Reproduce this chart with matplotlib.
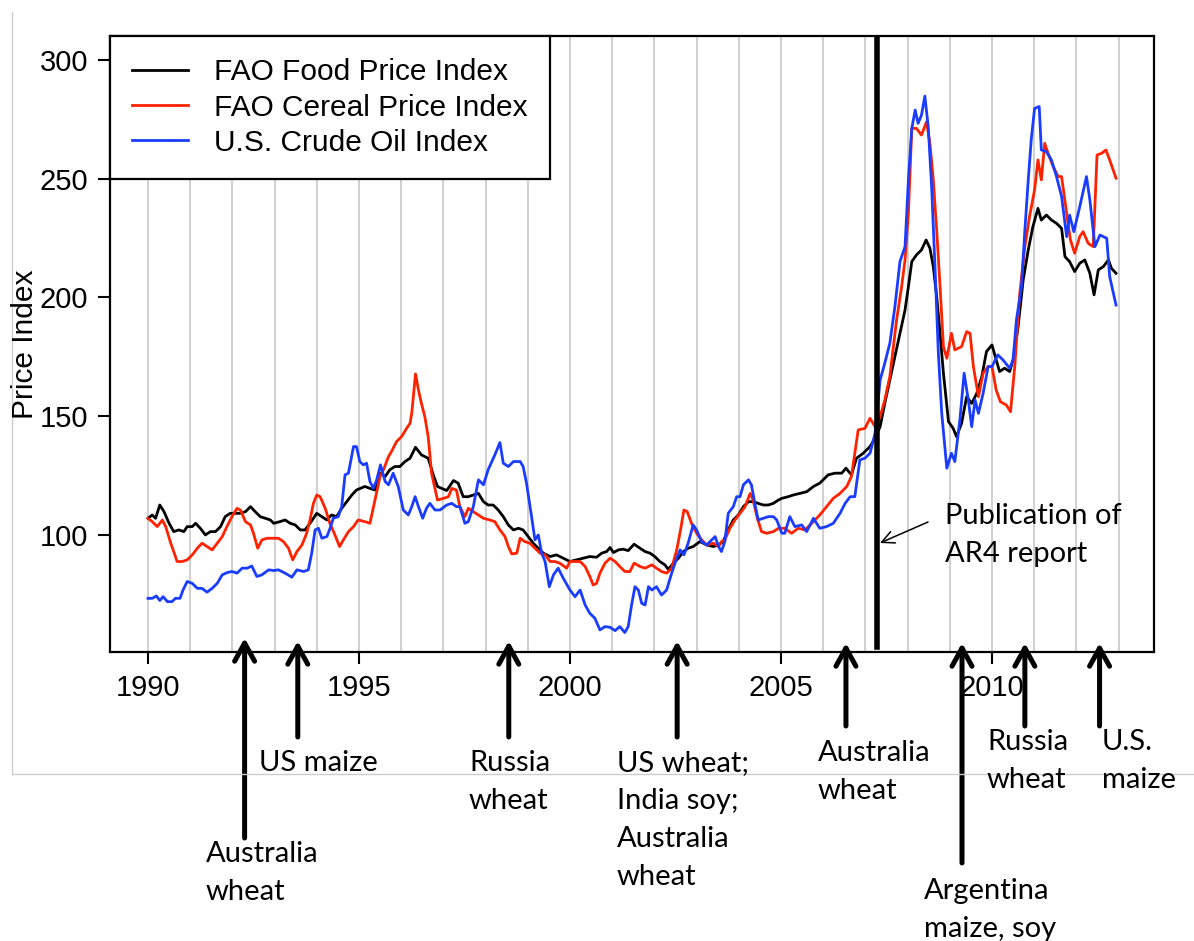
import matplotlib
matplotlib.use('Agg')
import matplotlib.pyplot as plt
from matplotlib.lines import Line2D

# Data (decimal year, index value)
food = [
    (1990.00, 107.0), (1990.10, 108.4), (1990.18, 107.0), (1990.28, 112.6), (1990.38, 109.8),
    (1990.50, 104.9), (1990.61, 101.4), (1990.73, 102.1), (1990.85, 101.4), (1990.93, 103.5),
    (1991.05, 103.5), (1991.13, 104.9), (1991.24, 102.8), (1991.36, 100.0), (1991.48, 101.4),
    (1991.60, 101.4), (1991.72, 103.5), (1991.83, 107.7), (1991.95, 109.1), (1992.19, 109.1),
    (1992.31, 109.8), (1992.43, 111.9), (1992.54, 109.8), (1992.66, 107.7), (1992.90, 106.3),
    (1992.98, 104.9), (1993.13, 105.6), (1993.25, 106.3), (1993.37, 104.9), (1993.49, 104.2),
    (1993.61, 102.1), (1993.72, 102.1), (1993.84, 104.9), (1994.00, 109.1), (1994.12, 107.7),
    (1994.24, 106.3), (1994.35, 108.4), (1994.47, 107.7), (1994.59, 111.2), (1994.71, 114.0),
    (1994.83, 116.8), (1994.94, 118.9), (1995.14, 120.4), (1995.26, 119.6), (1995.38, 118.9),
    (1995.50, 126.0), (1995.62, 124.6), (1995.73, 127.4), (1995.85, 128.8), (1995.97, 128.8),
    (1996.09, 130.9), (1996.21, 132.3), (1996.34, 136.9), (1996.48, 133.7), (1996.64, 132.3),
    (1996.76, 125.3), (1996.86, 120.4), (1996.96, 119.6), (1997.08, 118.7), (1997.24, 122.9),
    (1997.35, 121.8), (1997.47, 116.1), (1997.59, 116.1), (1997.71, 116.8), (1997.83, 117.5),
    (1997.95, 114.0), (1998.06, 112.6), (1998.18, 112.6), (1998.30, 110.5), (1998.42, 107.7),
    (1998.54, 104.2), (1998.66, 102.1), (1998.78, 102.8), (1998.89, 102.1), (1999.01, 99.3),
    (1999.13, 96.5), (1999.25, 94.4), (1999.37, 92.3), (1999.53, 90.9), (1999.68, 91.6),
    (1999.84, 90.2), (2000.00, 88.8), (2000.16, 89.5), (2000.32, 90.2), (2000.47, 90.9),
    (2000.63, 90.6), (2000.75, 92.3), (2000.87, 93.0), (2000.95, 94.7), (2001.03, 92.6),
    (2001.15, 93.7), (2001.26, 94.0), (2001.38, 93.4), (2001.52, 96.1), (2001.66, 94.4),
    (2001.78, 93.0), (2001.90, 92.3), (2002.01, 90.9), (2002.13, 88.8), (2002.25, 87.4),
    (2002.33, 85.5), (2002.45, 88.1), (2002.57, 90.2), (2002.69, 93.0), (2002.80, 94.4),
    (2002.92, 95.1), (2003.08, 97.2), (2003.24, 95.8), (2003.40, 95.1), (2003.52, 95.8),
    (2003.63, 97.2), (2003.75, 102.1), (2003.87, 106.3), (2003.99, 108.4), (2004.11, 111.9),
    (2004.23, 114.0), (2004.34, 114.0), (2004.46, 113.3), (2004.58, 112.6), (2004.70, 112.6),
    (2004.82, 113.3), (2004.94, 114.7), (2005.02, 115.4), (2005.17, 116.1), (2005.29, 116.8),
    (2005.45, 117.5), (2005.61, 118.2), (2005.77, 120.4), (2005.92, 121.8), (2006.12, 125.3),
    (2006.28, 126.0), (2006.44, 126.0), (2006.54, 128.1), (2006.67, 125.3), (2006.79, 132.3),
    (2006.95, 134.4), (2007.11, 137.2), (2007.23, 140.7), (2007.35, 145.6), (2007.46, 155.4),
    (2007.58, 165.3), (2007.70, 175.1), (2007.82, 184.9), (2007.94, 194.7), (2008.02, 204.6),
    (2008.10, 215.1), (2008.21, 217.9), (2008.33, 220.0), (2008.44, 224.2), (2008.53, 220.7),
    (2008.61, 213.0), (2008.69, 200.4), (2008.77, 184.9), (2008.85, 168.1), (2008.97, 147.7),
    (2009.08, 144.9), (2009.16, 141.4), (2009.28, 147.0), (2009.40, 158.2), (2009.52, 155.4),
    (2009.64, 159.6), (2009.76, 166.7), (2009.87, 177.2), (2010.00, 180.0), (2010.10, 173.7),
    (2010.18, 168.8), (2010.30, 170.2), (2010.42, 168.8), (2010.50, 173.7), (2010.62, 187.7),
    (2010.74, 207.4), (2010.86, 220.0), (2010.97, 229.8), (2011.09, 237.5), (2011.17, 232.6),
    (2011.29, 234.7), (2011.41, 232.6), (2011.53, 231.2), (2011.65, 229.1), (2011.73, 217.2),
    (2011.84, 215.1), (2011.96, 210.9), (2012.08, 214.4), (2012.20, 215.8), (2012.32, 210.2),
    (2012.42, 201.1), (2012.52, 211.6), (2012.64, 213.0), (2012.76, 215.8), (2012.83, 212.3),
    (2012.94, 210.2),
]

cereal = [
    (1990.00, 107.0), (1990.10, 105.6), (1990.22, 103.5), (1990.34, 106.3), (1990.42, 103.5),
    (1990.54, 96.5), (1990.61, 93.0), (1990.69, 88.8), (1990.81, 88.8), (1990.93, 89.5),
    (1991.05, 91.6), (1991.17, 94.4), (1991.28, 96.5), (1991.40, 95.1), (1991.52, 93.7),
    (1991.64, 96.5), (1991.76, 99.3), (1991.87, 103.5), (1991.99, 107.7), (1992.11, 111.2),
    (1992.19, 110.5), (1992.31, 105.6), (1992.43, 104.2), (1992.50, 100.7), (1992.60, 94.4),
    (1992.70, 97.9), (1992.82, 98.6), (1992.98, 98.6), (1993.09, 98.6), (1993.21, 97.2),
    (1993.33, 94.4), (1993.43, 89.5), (1993.53, 93.0), (1993.65, 95.8), (1993.76, 100.7),
    (1993.84, 106.3), (1993.92, 113.3), (1994.00, 116.8), (1994.08, 116.1), (1994.20, 111.2),
    (1994.31, 104.9), (1994.43, 100.0), (1994.54, 95.1), (1994.63, 97.9), (1994.75, 101.4),
    (1994.87, 103.5), (1994.98, 106.3), (1995.14, 105.6), (1995.26, 104.9), (1995.38, 114.7),
    (1995.50, 124.6), (1995.58, 127.4), (1995.70, 133.0), (1995.77, 135.1), (1995.89, 139.3),
    (1996.01, 141.4), (1996.13, 144.9), (1996.21, 147.0), (1996.25, 151.2), (1996.34, 167.8),
    (1996.41, 161.0), (1996.48, 155.4), (1996.56, 149.8), (1996.64, 141.4), (1996.72, 126.0),
    (1996.86, 114.7), (1997.00, 115.4), (1997.12, 116.1), (1997.20, 119.6), (1997.31, 118.9),
    (1997.39, 111.9), (1997.51, 107.7), (1997.59, 111.2), (1997.71, 109.8), (1997.83, 108.4),
    (1997.95, 107.0), (1998.10, 106.3), (1998.22, 105.6), (1998.34, 102.1), (1998.46, 99.3),
    (1998.54, 95.1), (1998.62, 92.0), (1998.74, 92.3), (1998.82, 98.6), (1998.93, 97.2),
    (1999.05, 96.5), (1999.17, 94.4), (1999.29, 92.3), (1999.41, 91.6), (1999.53, 88.8),
    (1999.64, 88.8), (1999.76, 88.1), (1999.92, 86.0), (2000.00, 88.8), (2000.12, 88.8),
    (2000.24, 88.8), (2000.36, 86.7), (2000.47, 82.5), (2000.55, 78.9), (2000.63, 79.6),
    (2000.71, 83.9), (2000.83, 88.1), (2000.95, 90.2), (2001.07, 88.8), (2001.18, 86.7),
    (2001.30, 84.6), (2001.42, 84.6), (2001.52, 88.1), (2001.66, 86.7), (2001.78, 86.0),
    (2001.94, 87.4), (2002.05, 86.0), (2002.17, 84.6), (2002.29, 83.9), (2002.41, 86.0),
    (2002.53, 93.7), (2002.62, 102.1), (2002.70, 110.5), (2002.78, 109.8), (2002.88, 104.9),
    (2003.00, 100.7), (2003.12, 97.9), (2003.24, 95.8), (2003.40, 96.5), (2003.52, 95.1),
    (2003.59, 97.2), (2003.67, 97.9), (2003.79, 102.8), (2003.91, 106.3), (2004.03, 109.1),
    (2004.15, 111.9), (2004.27, 117.5), (2004.34, 114.7), (2004.44, 107.0), (2004.54, 101.4),
    (2004.66, 100.7), (2004.82, 101.4), (2004.94, 102.8), (2005.09, 102.8), (2005.25, 100.7),
    (2005.41, 102.8), (2005.57, 102.1), (2005.73, 104.9), (2005.92, 108.4), (2006.08, 111.9),
    (2006.24, 115.4), (2006.40, 117.5), (2006.56, 120.4), (2006.67, 124.6), (2006.75, 134.4),
    (2006.83, 144.2), (2006.99, 144.9), (2007.11, 149.1), (2007.23, 145.6), (2007.35, 149.8),
    (2007.46, 156.8), (2007.58, 166.7), (2007.74, 190.5), (2007.86, 204.6), (2007.94, 215.8),
    (2008.02, 235.4), (2008.10, 271.2), (2008.21, 271.2), (2008.33, 268.4), (2008.45, 274.0),
    (2008.53, 264.9), (2008.61, 249.5), (2008.69, 228.4), (2008.77, 204.6), (2008.85, 179.3),
    (2008.93, 174.4), (2009.04, 184.9), (2009.12, 177.9), (2009.28, 179.3), (2009.40, 185.6),
    (2009.48, 184.9), (2009.56, 170.9), (2009.68, 158.2), (2009.79, 168.1), (2009.91, 170.9),
    (2010.00, 170.9), (2010.10, 161.0), (2010.20, 156.1), (2010.34, 154.7), (2010.44, 151.9),
    (2010.54, 170.9), (2010.66, 201.8), (2010.78, 221.4), (2010.89, 234.0), (2011.01, 245.3),
    (2011.09, 257.9), (2011.17, 249.5), (2011.25, 264.9), (2011.33, 260.7), (2011.45, 255.1),
    (2011.57, 250.9), (2011.65, 250.9), (2011.77, 235.4), (2011.86, 224.2), (2011.96, 218.6),
    (2012.08, 225.6), (2012.16, 227.7), (2012.28, 222.8), (2012.40, 221.4), (2012.49, 260.0),
    (2012.60, 260.7), (2012.70, 262.1), (2012.79, 257.9), (2012.94, 250.2),
]

oil = [
    (1990.00, 73.3), (1990.10, 73.3), (1990.20, 74.3), (1990.28, 72.4), (1990.36, 74.0),
    (1990.46, 71.9), (1990.57, 71.9), (1990.65, 73.3), (1990.76, 73.3), (1990.83, 76.8),
    (1990.93, 80.4), (1991.05, 79.6), (1991.17, 77.5), (1991.28, 77.5), (1991.40, 75.9),
    (1991.52, 77.5), (1991.64, 79.6), (1991.76, 83.2), (1991.87, 84.1), (1991.99, 84.6),
    (1992.11, 83.9), (1992.23, 86.0), (1992.35, 86.0), (1992.46, 86.9), (1992.58, 82.5),
    (1992.70, 83.2), (1992.86, 85.3), (1992.98, 85.0), (1993.09, 85.3), (1993.25, 83.9),
    (1993.41, 82.2), (1993.53, 85.3), (1993.69, 84.6), (1993.80, 85.3), (1993.88, 92.3),
    (1993.96, 102.1), (1994.04, 102.8), (1994.12, 98.6), (1994.24, 99.3), (1994.33, 103.5),
    (1994.39, 107.0), (1994.51, 107.7), (1994.59, 111.9), (1994.67, 125.3), (1994.75, 126.0),
    (1994.87, 137.2), (1994.94, 137.2), (1995.02, 130.9), (1995.10, 129.5), (1995.18, 130.2),
    (1995.26, 122.5), (1995.34, 119.6), (1995.42, 123.2), (1995.51, 129.5), (1995.62, 122.5),
    (1995.70, 121.1), (1995.81, 126.0), (1995.93, 120.4), (1996.05, 110.5), (1996.17, 108.4),
    (1996.25, 111.9), (1996.33, 116.1), (1996.41, 111.9), (1996.51, 107.0), (1996.60, 111.2),
    (1996.68, 113.3), (1996.80, 110.5), (1996.92, 110.5), (1997.08, 112.6), (1997.20, 113.3),
    (1997.31, 111.9), (1997.39, 111.9), (1997.51, 104.9), (1997.59, 105.6), (1997.71, 111.9),
    (1997.83, 123.2), (1997.95, 121.1), (1998.06, 127.4), (1998.22, 133.7), (1998.34, 138.9),
    (1998.42, 130.2), (1998.54, 128.8), (1998.66, 130.9), (1998.82, 130.9), (1998.89, 128.8),
    (1998.97, 121.8), (1999.09, 107.7), (1999.17, 97.9), (1999.25, 100.0), (1999.33, 92.3),
    (1999.41, 88.8), (1999.51, 78.2), (1999.61, 83.2), (1999.72, 86.0), (1999.84, 81.8),
    (2000.00, 76.8), (2000.12, 74.0), (2000.24, 76.8), (2000.36, 70.5), (2000.47, 67.0),
    (2000.59, 64.9), (2000.71, 60.0), (2000.83, 61.4), (2000.95, 61.1), (2001.07, 59.7),
    (2001.18, 61.4), (2001.30, 58.9), (2001.38, 61.4), (2001.46, 70.5), (2001.54, 78.2),
    (2001.62, 76.8), (2001.70, 71.2), (2001.78, 70.5), (2001.86, 78.2), (2001.94, 76.8),
    (2002.05, 78.2), (2002.17, 74.7), (2002.29, 76.8), (2002.41, 83.9), (2002.53, 90.2),
    (2002.61, 93.7), (2002.70, 91.6), (2002.80, 96.5), (2002.92, 104.2), (2003.00, 102.1),
    (2003.12, 97.2), (2003.24, 95.8), (2003.32, 97.2), (2003.44, 99.3), (2003.52, 95.1),
    (2003.59, 93.0), (2003.67, 97.2), (2003.75, 109.1), (2003.87, 111.9), (2003.95, 116.1),
    (2004.03, 116.1), (2004.11, 121.1), (2004.23, 123.2), (2004.30, 121.1), (2004.38, 113.3),
    (2004.46, 106.3), (2004.58, 107.0), (2004.70, 107.7), (2004.82, 107.7), (2004.90, 106.3),
    (2005.02, 100.7), (2005.09, 100.7), (2005.21, 107.7), (2005.33, 103.5), (2005.49, 104.2),
    (2005.61, 101.4), (2005.77, 107.0), (2005.92, 102.8), (2006.08, 103.5), (2006.24, 104.9),
    (2006.40, 109.1), (2006.52, 113.3), (2006.64, 116.1), (2006.75, 116.1), (2006.87, 131.6),
    (2006.99, 132.3), (2007.11, 134.4), (2007.23, 142.8), (2007.35, 165.3), (2007.46, 172.3),
    (2007.58, 180.7), (2007.70, 196.1), (2007.82, 215.1), (2007.94, 221.4), (2008.02, 249.5),
    (2008.10, 271.2), (2008.18, 278.9), (2008.25, 273.3), (2008.33, 276.8), (2008.41, 284.8),
    (2008.49, 271.9), (2008.57, 246.7), (2008.65, 213.0), (2008.73, 176.5), (2008.81, 151.2),
    (2008.93, 128.1), (2009.04, 134.4), (2009.12, 130.9), (2009.24, 148.4), (2009.34, 168.1),
    (2009.44, 156.8), (2009.52, 145.6), (2009.60, 156.8), (2009.68, 151.2), (2009.79, 159.6),
    (2009.91, 170.9), (2010.00, 170.9), (2010.14, 175.8), (2010.26, 173.7), (2010.42, 170.2),
    (2010.50, 173.7), (2010.58, 190.5), (2010.70, 204.6), (2010.78, 228.4), (2010.86, 249.5),
    (2010.93, 266.3), (2011.01, 279.6), (2011.12, 280.4), (2011.17, 262.1), (2011.29, 261.4),
    (2011.41, 257.9), (2011.53, 250.9), (2011.65, 242.5), (2011.77, 225.6), (2011.84, 234.7),
    (2011.94, 227.7), (2012.08, 238.2), (2012.24, 250.9), (2012.32, 241.1), (2012.44, 221.4),
    (2012.56, 226.3), (2012.72, 224.9), (2012.79, 208.8), (2012.94, 196.8),
]

series_names = ['FAO Food Price Index', 'FAO Cereal Price Index', 'U.S. Crude Oil Index']
series_colors = ['black', '#ff2200', '#1a3cff']

ar4_year = 2007.27

event_years = [1992.29, 1993.55, 1998.55, 2002.54, 2006.54, 2009.29, 2010.78, 2012.55]
event_labels = [
    ['Australia', 'wheat'],
    ['US maize'],
    ['Russia', 'wheat'],
    ['US wheat;', 'India soy;', 'Australia', 'wheat'],
    ['Australia', 'wheat'],
    ['Argentina', 'maize, soy'],
    ['Russia', 'wheat'],
    ['U.S.', 'maize'],
]
# layout (pixels from top of figure): arrow tip, arrow tail, text left x, first line y
event_layout = [
    (638, 838, 206, 854),
    (641, 737, 259, 763),
    (641, 737, 469, 763),
    (641, 737, 617, 763),
    (643, 726, 818, 753),
    (643, 863, 924, 891),
    (643, 726, 987, 742),
    (643, 726, 1102, 742),
]

W, H = 1194, 941
fig = plt.figure(figsize=(W / 100, H / 100), dpi=100)
ax = fig.add_axes([110 / W, 1 - 652 / H, 1044 / W, 616 / H])

tick_font = 'Liberation Sans'
note_font = 'Lato'

# yearly vertical grid lines
for yr in range(1990, 2014):
    ax.axvline(yr, color='#c4c4c4', lw=1.1, zorder=0)

for data, name, col in zip([food, cereal, oil], series_names, series_colors):
    t = [p[0] for p in data]
    v = [p[1] for p in data]
    ax.plot(t, v, color=col, lw=2.0, label=name, zorder=2)

ax.axvline(ar4_year, ymin=0.008, ymax=1, color='black', lw=4, zorder=3)

ax.set_xlim(1989.10, 2013.84)
ax.set_ylim(50.7, 310.1)
ax.set_xticks([1990, 1995, 2000, 2005, 2010])
ax.set_yticks([100, 150, 200, 250, 300])
ax.tick_params(direction='out', length=8.5, width=1.5, pad=7, labelsize=21)
for lab in ax.get_xticklabels() + ax.get_yticklabels():
    lab.set_fontfamily(tick_font)
for sp in ax.spines.values():
    sp.set_linewidth(1.6)

fig.text(25 / W, 1 - 344 / H, 'Price Index', rotation=90, ha='center', va='center',
         fontsize=21.5, family=tick_font)

leg = ax.legend(loc='upper left', bbox_to_anchor=(0, 1), borderaxespad=0,
                fancybox=False, framealpha=1, edgecolor='black',
                prop={'family': tick_font, 'size': 21.5},
                handlelength=1.85, handletextpad=0.87, borderpad=0.75, labelspacing=0.24)
leg.get_frame().set_linewidth(1.6)
for ln in leg.get_lines():
    ln.set_linewidth(2.0)
leg.set_zorder(5)

# event arrows under the axis
for yr, lines, (tip, tail, tx, ty) in zip(event_years, event_labels, event_layout):
    ax.annotate('', xy=(yr, H - tip), xycoords=('data', 'figure pixels'),
                xytext=(yr, H - tail), textcoords=('data', 'figure pixels'),
                arrowprops=dict(arrowstyle='->,head_length=0.65,head_width=0.36',
                                lw=3.6, color='black', shrinkA=0, shrinkB=0,
                                mutation_scale=20),
                annotation_clip=False)
    for i, line in enumerate(lines):
        fig.text(tx / W, 1 - (ty + 38 * i) / H, line, ha='left', va='center',
                 fontsize=21, family=note_font)

# AR4 publication note
ax.annotate('', xy=(880, H - 543), xycoords='figure pixels',
            xytext=(928, H - 522), textcoords='figure pixels',
            arrowprops=dict(arrowstyle='->,head_length=0.45,head_width=0.22',
                            lw=1.1, color='black', shrinkA=0, shrinkB=0,
                            mutation_scale=20))
fig.text(945 / W, 1 - 516 / H, 'Publication of', ha='left', va='center',
         fontsize=21, family=note_font)
fig.text(945 / W, 1 - 554 / H, 'AR4 report', ha='left', va='center',
         fontsize=21, family=note_font)

# light outer frame
fig.add_artist(Line2D([12 / W, 12 / W], [1 - 12 / H, 1 - 774 / H], color='#cccccc', lw=1))
fig.add_artist(Line2D([12 / W, 1], [1 - 774 / H, 1 - 774 / H], color='#cccccc', lw=1))

fig.savefig('out.png', dpi=100)
